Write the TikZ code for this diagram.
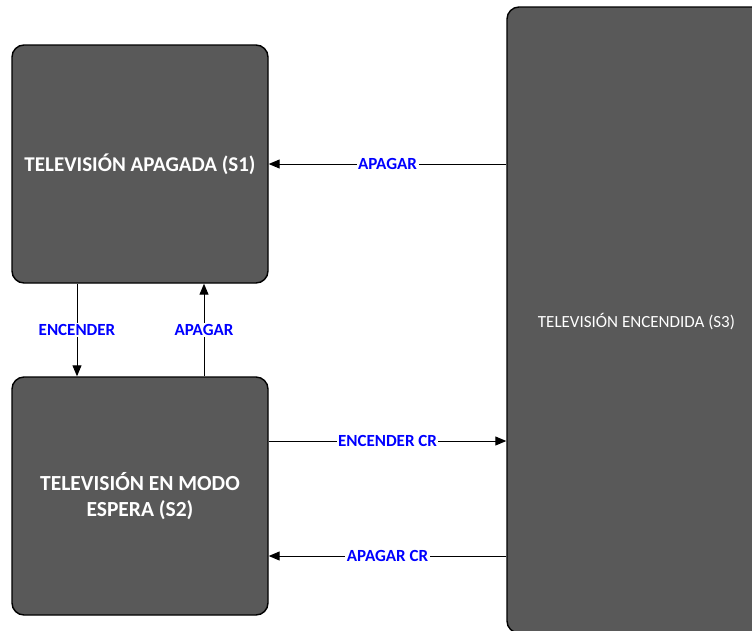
\documentclass[tikz,border=0pt]{standalone}
\usepackage{fontspec}
\setmainfont{Carlito}
\usetikzlibrary{arrows.meta}
\definecolor{boxgray}{RGB}{89,89,89}
\definecolor{lblblue}{RGB}{0,0,255}
\begin{document}
\begin{tikzpicture}[x=1pt,y=-1pt,
  state/.style={draw=black, line width=1.4pt, fill=boxgray, rounded corners=12pt,
    text=white, align=center, inner sep=0pt},
  arr/.style={line width=1pt, -{Triangle[length=11pt,width=9pt]}},
  lbl/.style={fill=white, text=lblblue, font=\fontsize{17}{20}\selectfont\bfseries, inner sep=1.5pt}]
\clip (0,0) rectangle (752,630);
\node[state, minimum width=256pt, minimum height=238pt,
  font=\fontsize{21}{25}\selectfont\bfseries] (s1) at (140,164) {TELEVISIÓN APAGADA (S1)};
\node[state, minimum width=256pt, minimum height=238pt,
  font=\fontsize{21.5}{26}\selectfont\bfseries] (s2) at (140,496) {TELEVISIÓN EN MODO\\ESPERA (S2)};
\node[state, minimum width=259pt, minimum height=626pt] (s3) at (636.5,320) {};
\node[text=white, font=\fontsize{17}{20}\selectfont] (s3t) at (636.5,322) {TELEVISIÓN ENCENDIDA (S3)};
\draw[arr] (s3.west |- s1.east) -- node[lbl] {APAGAR} (s1.east);
\draw[arr] ([yshift=55pt]s2.east) -- node[lbl] {ENCENDER CR} ([yshift=55pt]s2.east -| s3.west);
\draw[arr] ([yshift=-60pt]s2.east -| s3.west) -- node[lbl] {APAGAR CR} ([yshift=-60pt]s2.east);
\draw[arr] ([xshift=-63pt]s1.south) -- node[lbl] {ENCENDER} ([xshift=-63pt]s1.south |- s2.north);
\draw[arr] ([xshift=64pt]s1.south |- s2.north) -- node[lbl] {APAGAR} ([xshift=64pt]s1.south);
\end{tikzpicture}
\end{document}
